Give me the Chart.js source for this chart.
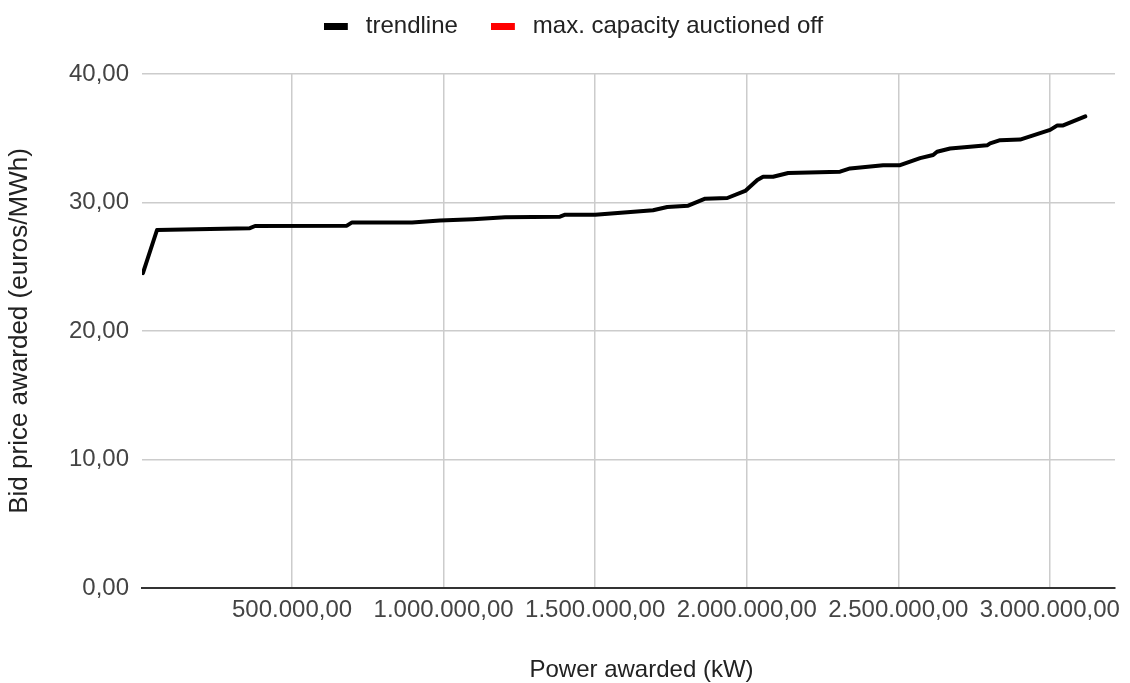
<!DOCTYPE html>
<html>
<head>
<meta charset="utf-8">
<script src="https://cdn.jsdelivr.net/npm/chart.js@4.4.1/dist/chart.umd.min.js"></script>
<style>
  html, body { margin: 0; padding: 0; background: #fff; }
  #wrap { width: 1130px; height: 683px; }
</style>
</head>
<body>
<div id="wrap"><canvas id="bidChart"></canvas></div>
<script>
// cumulative power awarded (kW) vs bid price (euros/MWh)
const powerAwarded = [8000, 54500, 361000, 378000, 681000, 698000, 896000, 988000, 1097000, 1203000,
  1384000, 1401000, 1500000, 1691000, 1738000, 1807000, 1863000, 1936000, 1995000, 2035000,
  2054000, 2087000, 2137000, 2308000, 2341000, 2450000, 2506000, 2572000, 2615000, 2628000,
  2671000, 2793000, 2803000, 2836000, 2902000, 3001000, 3025000, 3044000, 3117000];
const bidPrice = [24.5, 27.86, 28.0, 28.17, 28.2, 28.45, 28.45, 28.6, 28.7, 28.85,
  28.9, 29.05, 29.05, 29.4, 29.65, 29.75, 30.3, 30.35, 30.9, 31.75,
  32.0, 32.0, 32.3, 32.4, 32.65, 32.9, 32.9, 33.45, 33.7, 33.95,
  34.2, 34.45, 34.6, 34.85, 34.9, 35.65, 36.0, 36.0, 36.7];

// max. capacity series has no visible points
const capacityPower = [];
const capacityPrice = [];

const xTicks = [500000, 1000000, 1500000, 2000000, 2500000, 3000000];
const yTicks = [0, 10, 20, 30, 40];

const FONT = 'Arial, "Liberation Sans", sans-serif';

function fmt(v) {
  const parts = Number(v).toFixed(2).split('.');
  return parts[0].replace(/\B(?=(\d{3})+(?!\d))/g, '.') + ',' + parts[1];
}

function toPoints(xs, ys) {
  return xs.map((x, i) => ({ x: x, y: ys[i] }));
}

// legend swatch: 24x7 bar with some empty room on its right
function swatch(color) {
  const c = document.createElement('canvas');
  c.width = 30;
  c.height = 7;
  const g = c.getContext('2d');
  g.fillStyle = color;
  g.fillRect(0, 0, 24, 7);
  return c;
}

// legend takes a fixed band above the plot, then gets nudged into place;
// the x axis title sits a little right of the plot centre
const legendBand = {
  id: 'legendBand',
  afterInit(chart) {
    const fit = chart.legend.fit;
    chart.legend.fit = function () {
      fit.call(this);
      this.height = 74;
    };
  },
  afterLayout(chart) {
    const lg = chart.legend;
    lg.top -= 19;
    lg.left += 16;
    lg.right += 16;

    const xs = chart.scales.x;
    if (!xs._shifted) {
      const drawTitle = xs.drawTitle;
      xs.drawTitle = function () {
        this.ctx.save();
        this.ctx.translate(13, 0);
        drawTitle.call(this);
        this.ctx.restore();
      };
      xs._shifted = true;
    }
  }
};

new Chart('bidChart', {
  type: 'scatter',
  data: {
    datasets: [
      {
        label: 'trendline',
        data: toPoints(powerAwarded, bidPrice),
        showLine: true,
        borderColor: '#000',
        backgroundColor: '#000',
        borderWidth: 4,
        borderJoinStyle: 'round',
        borderCapStyle: 'round',
        pointRadius: 0,
        tension: 0
      },
      {
        label: 'max. capacity auctioned off',
        data: toPoints(capacityPower, capacityPrice),
        showLine: true,
        borderColor: '#ff0000',
        backgroundColor: '#ff0000',
        borderWidth: 4,
        pointRadius: 0
      }
    ]
  },
  options: {
    responsive: true,
    maintainAspectRatio: false,
    animation: false,
    layout: { padding: { top: 0, right: 15, left: 0, bottom: 0 } },
    plugins: {
      tooltip: { enabled: false },
      legend: {
        position: 'top',
        align: 'center',
        labels: {
          usePointStyle: true,
          pointStyleWidth: 30,
          boxHeight: 7,
          padding: 33,
          color: '#222',
          font: { size: 24, family: FONT },
          generateLabels: function (chart) {
            return Chart.defaults.plugins.legend.labels.generateLabels(chart)
              .map(l => Object.assign(l, { lineWidth: 0, pointStyle: swatch(l.fillStyle) }));
          }
        }
      }
    },
    scales: {
      x: {
        type: 'linear',
        min: 5000,
        max: 3215000,
        afterBuildTicks: function (scale) {
          scale.ticks = xTicks.map(v => ({ value: v }));
        },
        afterFit: function (scale) { scale.height = 95; },
        ticks: {
          callback: v => fmt(v),
          color: '#444',
          font: { size: 24, family: FONT },
          padding: 8,
          maxRotation: 0,
          autoSkip: false
        },
        grid: { color: '#ccc', lineWidth: 1.5, drawTicks: false },
        border: { color: '#333', width: 2 },
        title: {
          display: true,
          text: 'Power awarded (kW)',
          color: '#222',
          padding: { top: 4, bottom: 1 },
          font: { size: 24, family: FONT, lineHeight: 1 }
        }
      },
      y: {
        min: 0,
        max: 40,
        afterBuildTicks: function (scale) {
          scale.ticks = yTicks.map(v => ({ value: v }));
        },
        afterFit: function (scale) { scale.width = 142; },
        ticks: {
          callback: v => fmt(v),
          color: '#444',
          font: { size: 24, family: FONT },
          padding: 13
        },
        grid: { color: '#ccc', lineWidth: 1.5, drawTicks: false },
        border: { display: false },
        title: {
          display: true,
          text: 'Bid price awarded (euros/MWh)',
          color: '#222',
          font: { size: 26, family: FONT }
        }
      }
    }
  },
  plugins: [legendBand]
});
</script>
</body>
</html>
